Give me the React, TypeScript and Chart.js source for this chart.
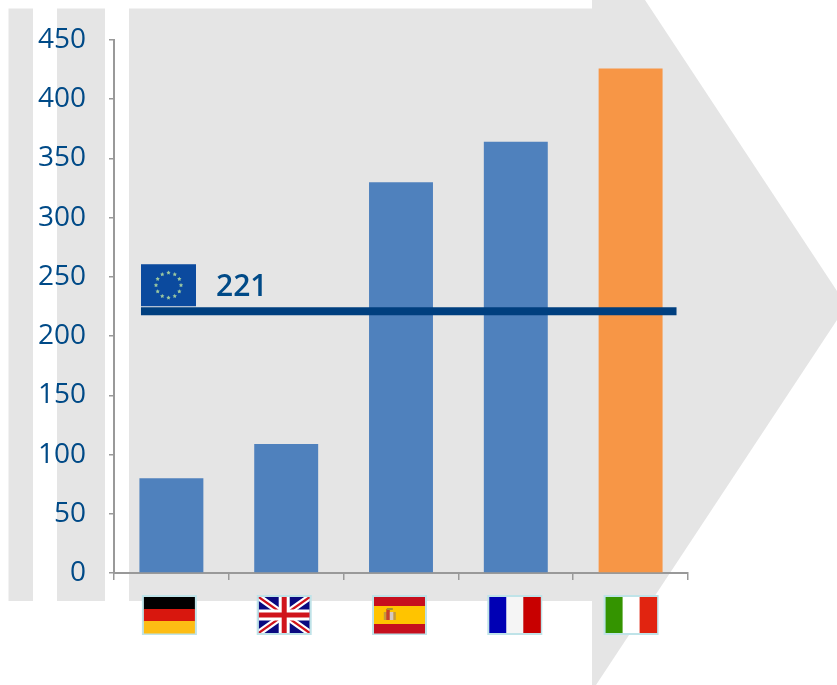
import React, { useEffect, useRef } from "react";
import { Chart, registerables } from "chart.js";

Chart.register(...registerables);

// Chart values
const countries = ["Germany", "United Kingdom", "Spain", "France", "Italy"];
const values = [80, 109, 330, 364, 426];
const barColors = ["#4f81bd", "#4f81bd", "#4f81bd", "#4f81bd", "#f79646"];
const euAverage = 221;
const euLabel = "221";
// The average line runs across the plot in category units.
const euLineSpan = [0.235, 4.9];

const INK = "#004a87";
const AXIS = "#999999";
const PANEL = "#e5e5e5";
const FONT = '"Open Sans", sans-serif';

type Ctx = CanvasRenderingContext2D;

function stripesH(c: Ctx, x: number, y: number, w: number, h: number, cols: string[]) {
  const s = h / cols.length;
  cols.forEach((col, i) => {
    c.fillStyle = col;
    c.fillRect(x, y + i * s, w, s + 0.5);
  });
}

function stripesV(c: Ctx, x: number, y: number, w: number, h: number, cols: string[]) {
  const s = w / cols.length;
  cols.forEach((col, i) => {
    c.fillStyle = col;
    c.fillRect(x + i * s, y, s + 0.5, h);
  });
}

function unionJack(c: Ctx, x: number, y: number, w: number, h: number) {
  c.save();
  c.beginPath();
  c.rect(x, y, w, h);
  c.clip();
  c.fillStyle = "#0a0a80";
  c.fillRect(x, y, w, h);
  const diag = (col: string, lw: number) => {
    c.strokeStyle = col;
    c.lineWidth = lw;
    c.beginPath();
    c.moveTo(x, y);
    c.lineTo(x + w, y + h);
    c.moveTo(x + w, y);
    c.lineTo(x, y + h);
    c.stroke();
  };
  diag("#ffffff", 6.5);
  diag("#d0141c", 2.2);
  c.fillStyle = "#ffffff";
  c.fillRect(x + w / 2 - 5.5, y, 11, h);
  c.fillRect(x, y + h / 2 - 5.5, w, 11);
  c.fillStyle = "#d0141c";
  c.fillRect(x + w / 2 - 2.5, y, 5, h);
  c.fillRect(x, y + h / 2 - 2.5, w, 5);
  c.restore();
}

function spain(c: Ctx, x: number, y: number, w: number, h: number) {
  stripesH(c, x, y, w, h, ["#c60f1e", "#ffc400", "#ffc400", "#c60f1e"]);
  const ax = x + w * 0.31;
  const ay = y + h / 2;
  c.fillStyle = "#c69a3a";
  c.fillRect(ax - 6, ay - 3, 12, 8);
  c.fillStyle = "#c8402c";
  c.fillRect(ax - 3.5, ay - 6, 3.5, 11);
  c.fillStyle = "#d6c9c0";
  c.fillRect(ax, ay - 3, 3.5, 8);
  c.fillStyle = "#a8902c";
  c.fillRect(ax - 3, ay - 7, 6, 2);
}

function star(c: Ctx, x: number, y: number, r: number) {
  c.beginPath();
  for (let i = 0; i < 10; i++) {
    const a = -Math.PI / 2 + (i * Math.PI) / 5;
    const d = i % 2 ? r * 0.5 : r;
    c.lineTo(x + Math.cos(a) * d, y + Math.sin(a) * d);
  }
  c.closePath();
  c.fill();
}

const flagPainters: ((c: Ctx, x: number, y: number, w: number, h: number) => void)[] = [
  (c, x, y, w, h) => stripesH(c, x, y, w, h, ["#000000", "#d8170e", "#fdbd14"]),
  unionJack,
  spain,
  (c, x, y, w, h) => stripesV(c, x, y, w, h, ["#0000b4", "#f5f5f5", "#c80000"]),
  (c, x, y, w, h) => stripesV(c, x, y, w, h, ["#349400", "#ffffff", "#e12410"]),
];

// Grey backdrop: three upright bands and the arrow pointing to the right.
const backdrop = {
  id: "backdrop",
  beforeDraw(chart: Chart) {
    const c = chart.ctx;
    c.save();
    c.fillStyle = PANEL;
    c.fillRect(8.5, 8.5, 24.5, 592.5);
    c.fillRect(57, 8.5, 48, 592.5);
    c.fillRect(129, 8.5, 463, 592.5);
    c.beginPath();
    c.moveTo(592, 0);
    c.lineTo(645, 0);
    c.lineTo(837, 291);
    c.lineTo(837, 320);
    c.lineTo(596, 685);
    c.lineTo(592, 685);
    c.closePath();
    c.fill();
    c.restore();
  },
};

// Country flags under each category, and the EU flag with its value above the line.
const annotations = {
  id: "annotations",
  afterDraw(chart: Chart) {
    const c = chart.ctx;
    const xs = chart.scales.x;
    const ys = chart.scales.y;
    const nudges = [-2, -2, -1.5, -1, 0.5];
    c.save();
    countries.forEach((_, i) => {
      const cx = xs.getPixelForTick(i) + nudges[i];
      const x = cx - 27.5;
      const y = 595;
      c.fillStyle = "#bfe3e8";
      c.fillRect(x, y, 55, 40);
      flagPainters[i](c, x + 2, y + 2, 51, 36);
    });

    const lineY = ys.getPixelForValue(euAverage);
    const fx = 141;
    const fy = lineY - 47;
    c.fillStyle = "#0b4a9e";
    c.fillRect(fx, fy, 55, 42);
    c.fillStyle = "#9cc8a0";
    for (let i = 0; i < 12; i++) {
      const a = (i * Math.PI) / 6;
      star(c, fx + 27.5 + Math.cos(a) * 12.5, fy + 21 + Math.sin(a) * 12.5, 2.3);
    }
    c.fillStyle = INK;
    c.font = `600 30px ${FONT}`;
    c.textAlign = "left";
    c.textBaseline = "alphabetic";
    c.fillText(euLabel, 216, lineY - 15);
    c.restore();
  },
};

export default function App() {
  const ref = useRef<HTMLCanvasElement>(null);

  useEffect(() => {
    if (!ref.current) return;
    const chart = new Chart(ref.current, {
      type: "bar",
      data: {
        labels: countries,
        datasets: [
          {
            type: "line",
            label: "EU",
            data: euLineSpan.map((x) => ({ x, y: euAverage })),
            xAxisID: "xLine",
            yAxisID: "y",
            borderColor: "#003f7f",
            borderWidth: 8,
            borderCapStyle: "butt",
            pointRadius: 0,
            order: 0,
          },
          {
            type: "bar",
            label: "Value",
            data: values,
            xAxisID: "x",
            yAxisID: "y",
            backgroundColor: barColors,
            barPercentage: 0.557,
            categoryPercentage: 1,
            grouped: false,
            order: 1,
          },
        ],
      } as any,
      options: {
        responsive: false,
        animation: false,
        events: [],
        layout: {
          autoPadding: false,
          padding: { left: 0, top: 40, right: 149, bottom: 112 },
        },
        plugins: { legend: { display: false }, tooltip: { enabled: false } },
        scales: {
          x: {
            type: "category",
            offset: true,
            afterFit: (s: any) => {
              s.height = 0;
            },
            border: { color: AXIS, width: 2 },
            grid: {
              offset: true,
              drawOnChartArea: false,
              drawTicks: true,
              tickLength: 7,
              color: AXIS,
              lineWidth: 1.5,
            },
            ticks: { display: false, autoSkip: false },
          },
          xLine: { type: "linear", axis: "x", display: false, offset: false, min: 0, max: 5 },
          y: {
            min: 0,
            max: 450,
            afterFit: (s: any) => {
              s.width = 114;
            },
            border: { color: AXIS, width: 2 },
            grid: {
              drawOnChartArea: false,
              drawTicks: true,
              tickLength: 5,
              color: AXIS,
              lineWidth: 1.5,
            },
            ticks: {
              stepSize: 50,
              padding: 23,
              color: INK,
              font: { family: FONT, size: 28 },
            },
          },
        },
      } as any,
      plugins: [backdrop, annotations],
    });
    return () => chart.destroy();
  }, []);

  return (
    <div style={{ position: "absolute", left: 0, top: 0, width: 837, height: 685, overflow: "hidden", background: "#ffffff" }}>
      <canvas ref={ref} width={837} height={685} style={{ display: "block" }} />
    </div>
  );
}
